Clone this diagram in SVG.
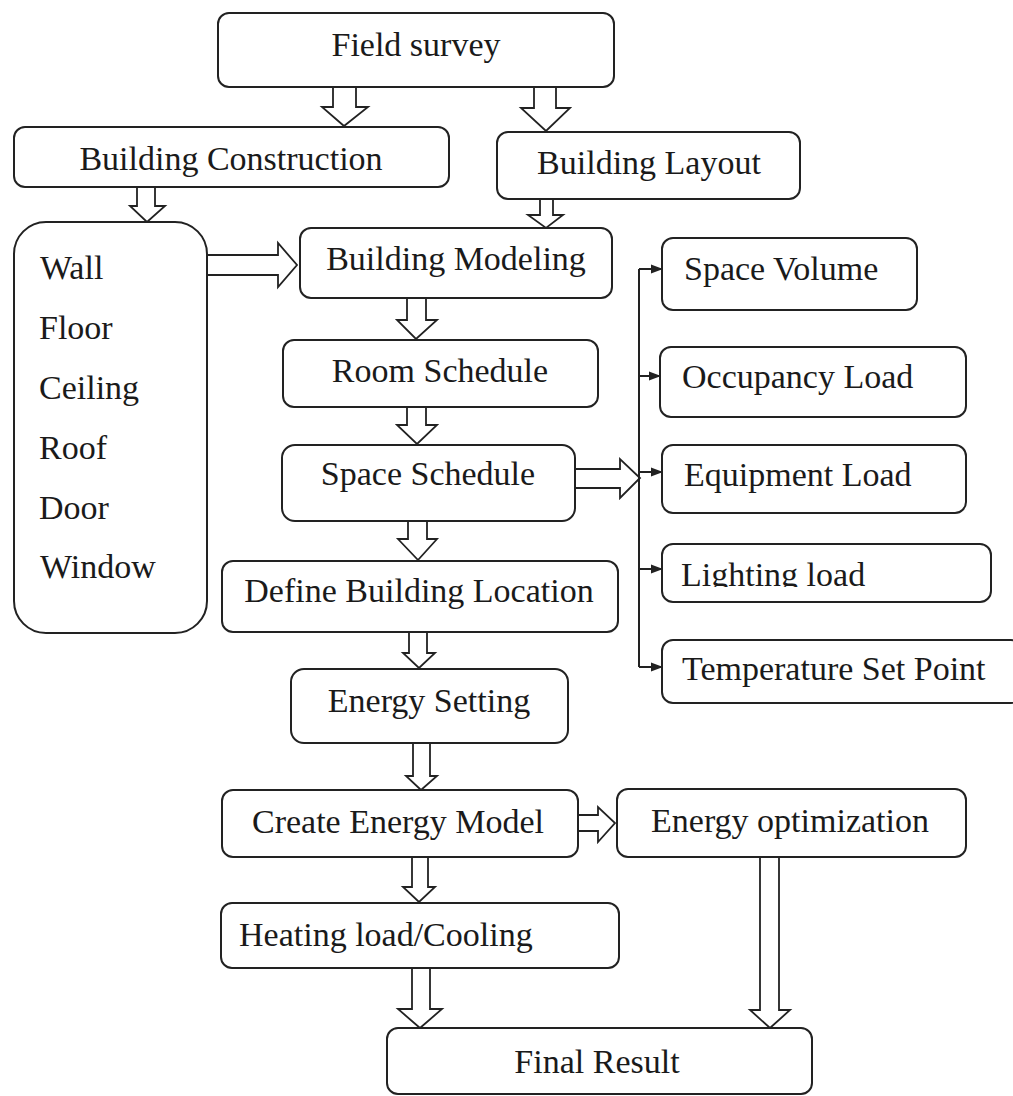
<svg xmlns="http://www.w3.org/2000/svg" width="1013" height="1096" viewBox="0 0 1013 1096">
<style>
.box{fill:#fff;stroke:#222;stroke-width:2}
.t{font-family:"Liberation Serif","Times New Roman",serif;font-size:34px;fill:#1a1a1a}
.c{text-anchor:middle}
.ba{fill:#fff;stroke:#222;stroke-width:1.8;stroke-linejoin:miter}
.ln{fill:none;stroke:#222;stroke-width:2}
</style>
<defs>
<marker id="ah" markerWidth="12" markerHeight="10" refX="11" refY="5" orient="auto" markerUnits="userSpaceOnUse">
<path d="M0,0.5 L12,5 L0,9.5 Z" fill="#222"/>
</marker>
<clipPath id="clipL"><rect x="660" y="540" width="340" height="47"/></clipPath>
</defs>
<rect width="1013" height="1096" fill="#fff"/>

<g id="connectors">
<path class="ba" d="M333,87 V107 H322 L344,126 L368,107 H356 V87"/>
<path class="ba" d="M534,87 V108 H521 L546,131 L570,108 H556 V87"/>
<path class="ba" d="M137,187 V206 H130 L147,222 L165,206 H155 V187"/>
<path class="ba" d="M540,199 V215 H528 L546,228 L563,215 H553 V199"/>
<path class="ba" d="M207,255 H278 V243 L297,265 L278,287 V275 H207"/>
<path class="ba" d="M407,298 V320 H397 L416,339 L437,320 H426 V298"/>
<path class="ba" d="M407,407 V425 H397 L417,444 L437,425 H426 V407"/>
<path class="ba" d="M408,521 V539 H398 L418,560 L437,539 H427 V521"/>
<path class="ba" d="M575,469 H620 V459 L640,478 L620,498 V488 H575"/>
<path class="ba" d="M409,632 V653 H403 L419,668 L435,653 H427 V632"/>
<path class="ba" d="M413,743 V776 H406 L421,790 L437,776 H430 V743"/>
<path class="ba" d="M578,815 H598 V807 L615,823 L598,842 V831 H578"/>
<path class="ba" d="M412,857 V887 H403 L419,902 L435,887 H428 V857"/>
<path class="ba" d="M412,968 V1009 H398 L420,1028 L442,1009 H430 V968"/>
<path class="ba" d="M760,857 V1010 H750 L770,1028 L790,1010 H779 V857"/>
<path class="ln" d="M639,269 V667"/>
<path class="ln" d="M639,269 H662" marker-end="url(#ah)"/>
<path class="ln" d="M639,376 H660" marker-end="url(#ah)"/>
<path class="ln" d="M639,472 H662" marker-end="url(#ah)"/>
<path class="ln" d="M639,569 H662" marker-end="url(#ah)"/>
<path class="ln" d="M639,667 H662" marker-end="url(#ah)"/>
</g>

<g id="field-survey"><rect class="box" x="218" y="13" width="396" height="74" rx="11"/><text class="t c" x="416" y="56">Field survey</text></g>
<g id="building-construction"><rect class="box" x="14" y="127" width="435" height="60" rx="11"/><text class="t c" x="231" y="170">Building Construction</text></g>
<g id="building-layout"><rect class="box" x="497" y="132" width="303" height="67" rx="11"/><text class="t c" x="649" y="174">Building Layout</text></g>
<g id="elements"><rect class="box" x="14" y="222" width="193" height="411" rx="32"/>
<text class="t" x="40" y="279">Wall</text>
<text class="t" x="39" y="339">Floor</text>
<text class="t" x="39" y="399">Ceiling</text>
<text class="t" x="39" y="459">Roof</text>
<text class="t" x="39" y="519">Door</text>
<text class="t" x="40" y="578">Window</text></g>
<g id="building-modeling"><rect class="box" x="300" y="228" width="312" height="70" rx="11"/><text class="t c" x="456" y="270">Building Modeling</text></g>
<g id="room-schedule"><rect class="box" x="283" y="340" width="315" height="67" rx="11"/><text class="t c" x="440" y="382">Room Schedule</text></g>
<g id="space-schedule"><rect class="box" x="282" y="445" width="293" height="76" rx="13"/><text class="t c" x="428" y="485">Space Schedule</text></g>
<g id="define-location"><rect class="box" x="222" y="561" width="396" height="71" rx="11"/><text class="t c" x="419" y="602">Define Building Location</text></g>
<g id="energy-setting"><rect class="box" x="291" y="669" width="277" height="74" rx="13"/><text class="t c" x="429" y="712">Energy Setting</text></g>
<g id="create-energy-model"><rect class="box" x="222" y="790" width="356" height="67" rx="11"/><text class="t c" x="398" y="833">Create Energy Model</text></g>
<g id="energy-optimization"><rect class="box" x="617" y="789" width="349" height="68" rx="11"/><text class="t c" x="790" y="832">Energy optimization</text></g>
<g id="heating-cooling"><rect class="box" x="221" y="903" width="398" height="65" rx="11"/><text class="t" x="239" y="946">Heating load/Cooling</text></g>
<g id="final-result"><rect class="box" x="387" y="1028" width="425" height="66" rx="11"/><text class="t c" x="597" y="1073">Final Result</text></g>
<g id="space-volume"><rect class="box" x="662" y="238" width="255" height="72" rx="11"/><text class="t" x="684" y="280">Space Volume</text></g>
<g id="occupancy-load"><rect class="box" x="660" y="347" width="306" height="70" rx="11"/><text class="t" x="682" y="388">Occupancy Load</text></g>
<g id="equipment-load"><rect class="box" x="662" y="445" width="304" height="68" rx="11"/><text class="t" x="684" y="486">Equipment Load</text></g>
<g id="lighting-load"><rect class="box" x="662" y="544" width="329" height="58" rx="11"/><text class="t" x="681" y="586" clip-path="url(#clipL)">Lighting load</text></g>
<g id="temperature-set-point"><rect class="box" x="662" y="640" width="360" height="63" rx="11"/><text class="t" x="682" y="680">Temperature Set Point</text></g>
</svg>
